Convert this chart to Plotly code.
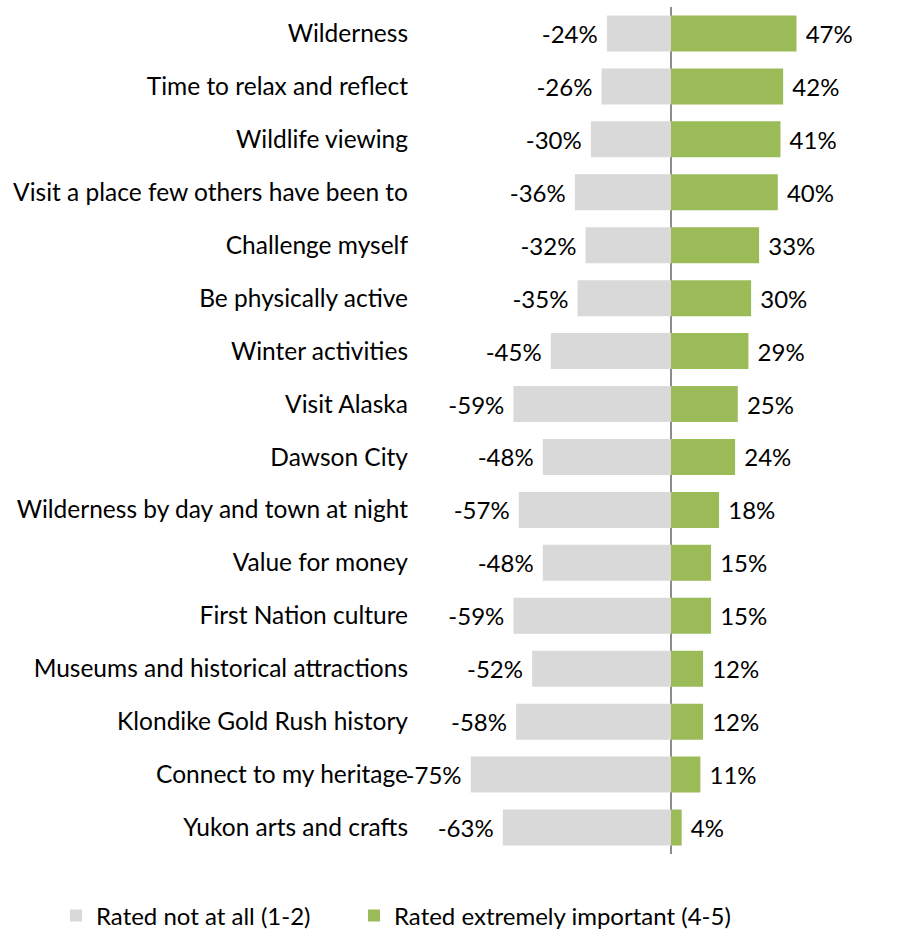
import plotly.graph_objects as go

# Travel motivations: share rating each factor "not at all" vs "extremely important"
categories = [
    "Wilderness",
    "Time to relax and reflect",
    "Wildlife viewing",
    "Visit a place few others have been to",
    "Challenge myself",
    "Be physically active",
    "Winter activities",
    "Visit Alaska",
    "Dawson City",
    "Wilderness by day and town at night",
    "Value for money",
    "First Nation culture",
    "Museums and historical attractions",
    "Klondike Gold Rush history",
    "Connect to my heritage",
    "Yukon arts and crafts",
]
not_at_all = [-24, -26, -30, -36, -32, -35, -45, -59, -48, -57, -48, -59, -52, -58, -75, -63]
extremely_important = [47, 42, 41, 40, 33, 30, 29, 25, 24, 18, 15, 15, 12, 12, 11, 4]

GRAY = "#D9D9D9"
GREEN = "#9BBB59"
FONT = "Lato, Open Sans, sans-serif"
SIZE = 24
NB = "\u00a0"

fig = go.Figure()
fig.add_trace(go.Bar(
    y=categories, x=not_at_all, orientation="h",
    name="Rated not at all (1-2)", marker=dict(color=GRAY, line=dict(width=0)),
    text=[f"{v}%{NB}" for v in not_at_all], textposition="outside",
    textfont=dict(family=FONT, size=SIZE, color="#000000"),
    cliponaxis=False, hoverinfo="skip", legend="legend",
))
fig.add_trace(go.Bar(
    y=categories, x=extremely_important, orientation="h",
    name="Rated extremely important (4-5)", marker=dict(color=GREEN, line=dict(width=0)),
    text=[f"{NB}{v}%" for v in extremely_important], textposition="outside",
    textfont=dict(family=FONT, size=SIZE, color="#000000"),
    cliponaxis=False, hoverinfo="skip", legend="legend2",
))

legend_common = dict(
    orientation="h", xref="paper", yref="paper",
    y=(854 - 916) / 847, xanchor="left", yanchor="middle",
    font=dict(family=FONT, size=SIZE, color="#000000"),
    itemclick=False, itemdoubleclick=False, bgcolor="rgba(0,0,0,0)",
)

fig.update_layout(
    width=903, height=931,
    margin=dict(l=412, r=20, t=7, b=77, autoexpand=False),
    paper_bgcolor="white", plot_bgcolor="white",
    barmode="relative", bargap=0.32,
    font=dict(family=FONT, size=SIZE, color="#000000"),
    showlegend=True,
    legend=dict(x=(56 - 412) / 471, **legend_common),
    legend2=dict(x=(354 - 412) / 471, **legend_common),
    xaxis=dict(
        range=[-97, 79.4], showgrid=False, showticklabels=False, ticks="",
        zeroline=True, zerolinecolor="#8C8C8C", zerolinewidth=1.5, fixedrange=True,
    ),
    yaxis=dict(
        autorange="reversed", showgrid=False, ticks="", showline=False,
        ticklabelstandoff=3,
        tickfont=dict(family=FONT, size=24.5, color="#000000"), fixedrange=True,
    ),
)

fig.write_html("out.html")
